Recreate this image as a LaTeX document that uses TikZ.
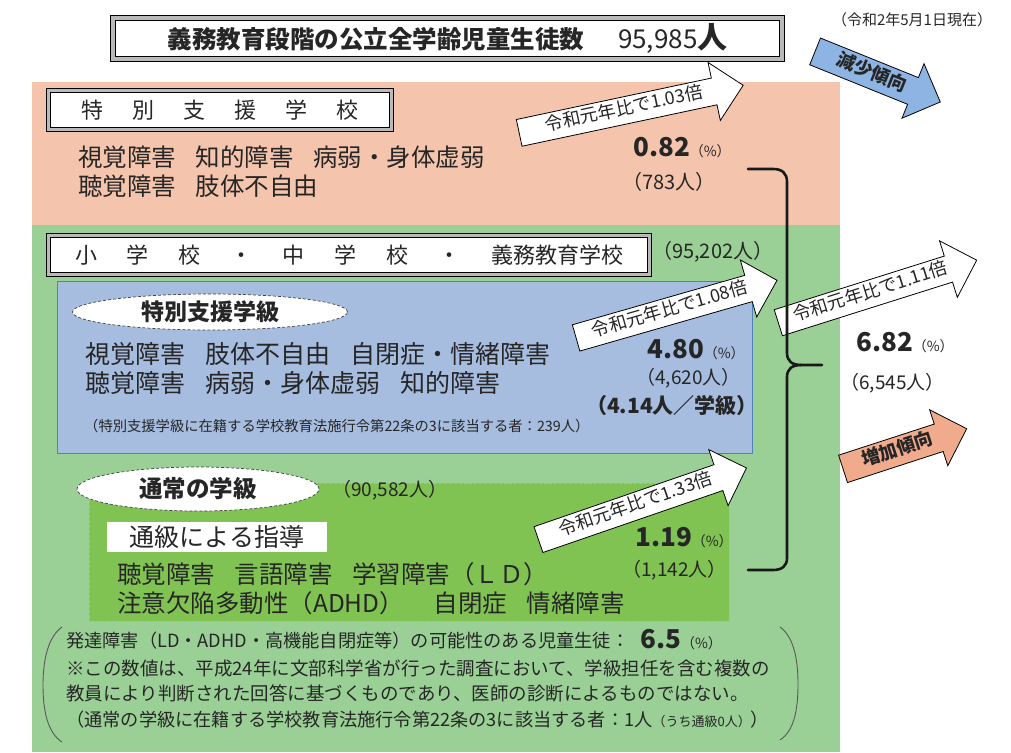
\documentclass[tikz,border=0pt]{standalone}
\usepackage{fontspec}
\setmainfont{Noto Sans CJK JP}
\usetikzlibrary{shapes.geometric,shapes.arrows}
\definecolor{pinkbg}{RGB}{244,196,172}
\definecolor{greenbg}{RGB}{154,208,150}
\definecolor{bluebox}{RGB}{166,189,224}
\definecolor{blueedge}{RGB}{79,129,189}
\definecolor{dgreen}{RGB}{128,195,82}
\definecolor{dgedge}{RGB}{150,205,120}
\definecolor{bluearr}{RGB}{141,180,226}
\definecolor{pinkarr}{RGB}{240,170,140}
\definecolor{txtc}{RGB}{38,38,38}
\newcommand\fsz[1]{\fontsize{#1pt}{#1pt}\selectfont}
\newcommand\jsp{\hspace{0.8em}}
\newcommand\wgap{\hspace{30pt}}
\newcommand\pct{{\mdseries\fsz{14}（\%）}}
\begin{document}
\begin{tikzpicture}[x=1pt,y=-1pt,
  txt/.style={inner sep=0pt, text=txtc, anchor=west},
  dblbox/.style={draw=black, line width=0.9pt, double=gray!55, double distance=2.6pt, fill=white, inner sep=0pt, text=txtc},
  ell/.style={ellipse, draw=black!75, densely dashed, line width=0.7pt, fill=white, inner sep=0pt, text=txtc},
  arrowbox/.style={single arrow, draw=black, line width=0.8pt, single arrow head extend=16pt, single arrow head indent=0pt, inner xsep=4pt, inner ysep=4.5pt, text height=13pt, text depth=4.5pt, font=\fsz{18}, text=txtc},
  smallarrow/.style={single arrow, draw=black, line width=0.8pt, single arrow head extend=15pt, single arrow head indent=0pt, inner xsep=4pt, inner ysep=4.5pt, text height=14pt, text depth=5pt, font=\bfseries\fsz{18.5}, text=txtc},
  brace/.style={line width=2.6pt, line cap=round, line join=round, black!90},
  paren/.style={line width=0.9pt, black!65}
]
\useasboundingbox (0,0) rectangle (1011,752);
% backgrounds
\fill[pinkbg] (32,82) rectangle (840,225);
\fill[greenbg] (32,225) rectangle (840,752);

% title
\node[dblbox, line width=1.2pt, double distance=3.6pt, minimum width=669pt, minimum height=41pt] (title) at (447.5,38.5)
  {{\bfseries\fsz{24.5}義務教育段階の公立全学齢児童生徒数}\hspace{34pt}{\fsz{26}95,985}{\bfseries\fsz{30}人}};
\node[txt, anchor=center] (date) at (912,20) {\fsz{15}（令和2年5月1日現在）};

% special needs schools
\node[dblbox, minimum width=343pt, minimum height=39pt] (sns) at (220,110)
  {\fsz{22}特\hspace{29pt}別\hspace{29pt}支\hspace{29pt}援\hspace{29pt}学\hspace{29pt}校};
\node[txt] (sns1) at (78,157) {\fsz{24.5}視覚障害\jsp 知的障害\jsp 病弱・身体虚弱};
\node[txt] (sns2) at (78,186) {\fsz{24.5}聴覚障害\jsp 肢体不自由};
\node[txt] (p082) at (633,148) {{\bfseries\fsz{26}0.82}\pct};
\node[txt] (n783) at (622,182) {\fsz{20}（783人）};

% elementary / junior high
\node[dblbox, minimum width=601pt, minimum height=39pt] (elem) at (349,255)
  {\fsz{22}小\wgap 学\wgap 校\wgap ・\wgap 中\wgap 学\wgap 校\wgap ・\wgap 義務教育学校};
\node[txt] (n95202) at (652,252) {\fsz{20}（95,202人）};

% special needs classes
\node[draw=blueedge, fill=bluebox, line width=0.8pt, minimum width=695pt, minimum height=172pt, inner sep=0pt] (snc) at (404.5,367) {};
\node[ell, minimum width=275pt, minimum height=36pt] (snce) at (210,312) {\bfseries\fsz{23}特別支援学級};
\node[txt] (snc1) at (85,354) {\fsz{25}視覚障害\jsp 肢体不自由\jsp 自閉症・情緒障害};
\node[txt] (snc2) at (85,383) {\fsz{25}聴覚障害\jsp 病弱・身体虚弱\jsp 知的障害};
\node[txt] (p480) at (647,350) {{\bfseries\fsz{26}4.80}\pct};
\node[txt] (n4620) at (636,378) {\fsz{19}（4,620人）};
\node[txt] (n414) at (586,406) {\bfseries\fsz{21}（4.14人／学級）};
\node[txt] (snote) at (84,426) {\fsz{14.3}（特別支援学級に在籍する学校教育法施行令第22条の3に該当する者：239人）};

% regular classes
\node[draw=dgedge, densely dashed, fill=dgreen, line width=0.8pt, minimum width=640pt, minimum height=138pt, inner sep=0pt] (reg) at (409,552) {};
\node[ell, minimum width=242pt, minimum height=44pt] (rege) at (198,489) {\bfseries\fsz{23.5}通常の学級};
\node[txt] (n90582) at (332,490) {\fsz{19}（90,582人）};
\node[fill=white, minimum width=220pt, minimum height=30pt, inner sep=0pt, text=txtc] (tsu) at (217,537) {\fsz{25}通級による指導};
\node[txt] (p119) at (635,538) {{\bfseries\fsz{26}1.19}\pct};
\node[txt] (n1142) at (622,570) {\fsz{19}（1,142人）};
\node[txt] (reg1) at (117,574) {\fsz{24.5}聴覚障害\jsp 言語障害\jsp 学習障害（ＬＤ）};
\node[txt] (reg2) at (117,603) {\fsz{24.5}注意欠陥多動性（ADHD）\hspace{1.2em}自閉症\jsp 情緒障害};

% total
\node[txt] (p682) at (856,343) {{\bfseries\fsz{26}6.82}\pct};
\node[txt] (n6545) at (840,383) {\fsz{19}（6,545人）};

% developmental disorders note
\draw[paren] (62,627) .. controls (48,637) and (43,660) .. (43,685) .. controls (43,712) and (48,733) .. (62,742);
\draw[paren] (780,627) .. controls (794,637) and (798,660) .. (798,684) .. controls (798,710) and (794,731) .. (780,740);
\node[txt] (dd) at (66,641) {\fsz{18.2}発達障害（LD・ADHD・高機能自閉症等）の可能性のある児童生徒：};
\node[txt] (p65) at (640,640) {{\bfseries\fsz{26}6.5}\pct};
\node[txt] (nt1) at (66,668) {\fsz{18.5}※この数値は、平成24年に文部科学省が行った調査において、学級担任を含む複数の};
\node[txt] (nt2) at (66,693) {\fsz{18.5}教員により判断された回答に基づくものであり、医師の診断によるものではない。};
\node[txt] (nt3) at (66,720) {\fsz{18.2}（通常の学級に在籍する学校教育法施行令第22条の3に該当する者：1人{\fsz{13}（うち通級0人）}）};

% arrows
\node[arrowbox, fill=white, rotate=12, minimum height=229pt] (a103) at (624.5,110.5) {令和元年比で1.03倍};
\node[arrowbox, fill=white, rotate=16, minimum height=209pt] (a108) at (670,311) {令和元年比で1.08倍};
\node[arrowbox, fill=white, rotate=17.5, minimum height=208pt] (a111) at (871,293.5) {令和元年比で1.11倍};
\node[arrowbox, fill=white, rotate=19, minimum height=220pt] (a133) at (636,506) {令和元年比で1.33倍};
\node[smallarrow, fill=bluearr, rotate=-22, minimum height=135pt] (down) at (871,74) {減少傾向};
\node[smallarrow, fill=pinkarr, rotate=18, minimum height=130pt] (up) at (898,451) {増加傾向};

% brace
\coordinate (bt) at (748,169);
\coordinate (bb) at (748,570);
\coordinate (btip) at (822,365);
\draw[brace] (bt) -- (773,169) .. controls (782,169) and (787,173) .. (787,182) -- (787,353) .. controls (787,361) and (792,365) .. (801,365) -- (btip);
\draw[brace] (801,365) .. controls (792,365) and (787,369) .. (787,377) -- (787,558) .. controls (787,566) and (782,570) .. (773,570) -- (bb);
\end{tikzpicture}
\end{document}
